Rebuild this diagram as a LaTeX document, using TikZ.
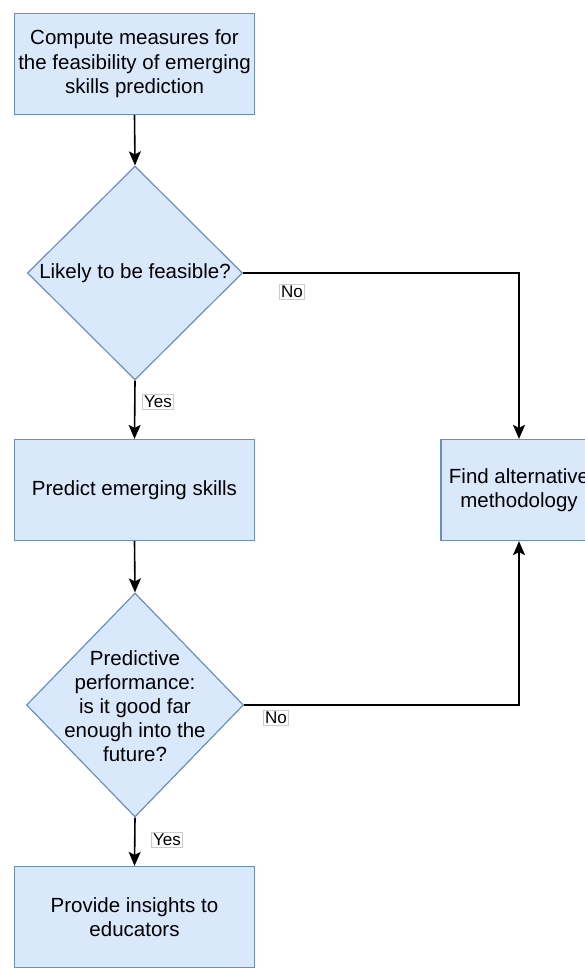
\documentclass[tikz,border=0pt]{standalone}
\usepackage{fontspec}
\setmainfont{Liberation Sans}
\usetikzlibrary{shapes.geometric,arrows.meta,positioning}
\definecolor{boxfill}{HTML}{DAE8FC}
\definecolor{boxline}{HTML}{6C8EBF}
\tikzset{
  stepbox/.style={draw=boxline, fill=boxfill, line width=1.2pt, rectangle,
    minimum width=240pt, minimum height=101pt, inner sep=0pt, align=center,
    font=\fontsize{20.5}{24.5}\selectfont},
  decision/.style={draw=boxline, fill=boxfill, line width=1.2pt, diamond,
    inner sep=0pt},
  dtext/.style={align=center, inner sep=0pt, font=\fontsize{20.5}{24}\selectfont},
  conn/.style={draw=black, line width=1.6pt, -{Stealth[length=14pt,width=12pt,inset=3pt]}},
  lbl/.style={draw=black!20, fill=white, line width=0.5pt, inner sep=1.5pt,
    font=\fontsize{17}{19}\selectfont}
}
\begin{document}
\begin{tikzpicture}[x=1pt,y=-1pt]
\useasboundingbox (0,0) rectangle (585,968);
\node[stepbox] (b1) at (134.5,64) {Compute measures for\\the feasibility of emerging\\skills prediction};
\node[decision, minimum width=215pt, minimum height=214pt] (d1) at (135,273) {};
\node[dtext] (d1t) at (135,273) {Likely to be feasible?};
\node[stepbox] (b2) at (134.5,490) {Predict emerging skills};
\node[stepbox, minimum width=156pt] (alt) at (519,490) {Find alternative\\methodology};
\node[decision, minimum width=217pt, minimum height=224pt] (d2) at (135,705) {};
\node[dtext] (d2t) at (135,706) {Predictive\\performance:\\is it good far\\enough into the\\future?};
\node[stepbox] (b3) at (134.5,917) {Provide insights to\\educators};

\draw[conn] (b1.south) -- (d1.north);
\draw[conn] (d1.south) -- (b2.north);
\draw[conn] (d1.east) -| (alt.north);
\draw[conn] (b2.south) -- (d2.north);
\draw[conn] (d2.south) -- (b3.north);
\draw[conn] (d2.east) -| (alt.south);

\node[lbl] (no1) at (292,292) {No};
\node[lbl] (yes1) at (158,402) {Yes};
\node[lbl] (no2) at (276,718) {No};
\node[lbl] (yes2) at (167,840) {Yes};
\end{tikzpicture}
\end{document}
